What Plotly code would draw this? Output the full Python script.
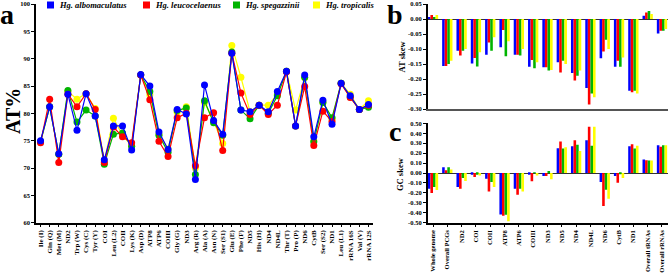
import plotly.graph_objects as go

# ---------------- data ----------------
series_names = ["Hg. albomaculatus", "Hg. leucocelaenus", "Hg. spegazzinii", "Hg. tropicalis"]
colors = ["#0000FF", "#FF0000", "#00B400", "#FFFF00"]

cats_a = ["Ile (I)", "Gln (Q)", "Met (M)", "ND2", "Trp (W)", "Cys (C)", "Tyr (Y)", "COI",
          "Leu (L2)", "COII", "Lys (K)", "Asp (D)", "ATP8", "ATP6", "COIII", "Gly (G)",
          "ND3", "Arg (R)", "Ala (A)", "Asn (N)", "Ser (S1)", "Glu (E)", "Phe (F)", "ND5",
          "His (H)", "ND4", "ND4L", "Thr (T)", "Pro (P)", "ND6", "CytB", "Ser (S2)", "ND1",
          "Leu (L1)", "rRNA 16S", "Val (V)", "rRNA 12S"]

at_albomaculatus = [75.0, 81.2, 72.6, 83.5, 76.9, 83.6, 79.5, 71.5, 77.7, 77.7, 73.3, 87.1,
                    85.0, 76.6, 73.4, 80.7, 79.9, 67.9, 85.2, 78.7, 76.2, 91.0, 80.6, 80.3,
                    81.5, 80.3, 84.0, 87.7, 77.7, 87.0, 75.7, 82.4, 78.0, 85.5, 83.2, 80.7, 81.6]
at_leucocelaenus = [74.6, 82.6, 71.0, 83.5, 81.2, 83.6, 80.7, 71.0, 77.5, 75.7, 74.6, 87.0,
                    82.5, 74.9, 72.1, 79.2, 80.0, 70.4, 79.2, 80.1, 73.2, 91.0, 83.7, 79.8,
                    81.5, 79.8, 81.5, 87.6, 77.7, 84.9, 74.1, 80.4, 78.5, 85.4, 82.9, 80.7, 81.5]
at_spegazzinii = [74.8, 81.2, 72.5, 84.2, 78.4, 80.6, 79.5, 70.7, 76.2, 76.4, 74.0, 87.0,
                  84.0, 76.0, 72.9, 80.5, 81.0, 68.8, 82.3, 78.3, 76.0, 91.2, 80.6, 79.0,
                  81.5, 80.0, 83.2, 87.7, 77.7, 86.6, 74.8, 82.0, 79.2, 85.5, 83.0, 80.7, 81.1]
at_tropicalis = [74.8, 81.2, 72.5, 84.0, 82.6, 83.6, 80.9, 71.3, 79.1, 76.0, 74.0, 87.0,
                 83.4, 76.2, 73.5, 80.2, 81.2, 70.0, 82.0, 78.5, 74.5, 92.4, 86.6, 80.3,
                 81.5, 81.5, 83.5, 87.7, 80.6, 86.5, 75.0, 82.0, 79.0, 85.5, 83.5, 80.7, 82.3]

cats_bc = ["Whole genome", "Overall PCGs", "ND2", "COI", "COII", "ATP8", "ATP6", "COIII",
           "ND3", "ND5", "ND4", "ND4L", "ND6", "CytB", "ND1", "Overall tRNAs", "Overall rRNAs"]

atskew_albomaculatus = [0.004, -0.157, -0.106, -0.148, -0.119, -0.094, -0.119, -0.159, -0.161,
                        -0.144, -0.180, -0.230, -0.131, -0.159, -0.239, 0.011, -0.048]
atskew_leucocelaenus = [0.013, -0.157, -0.122, -0.130, -0.078, -0.037, -0.119, -0.137, -0.161,
                        -0.178, -0.205, -0.285, -0.108, -0.139, -0.244, 0.022, -0.039]
atskew_spegazzinii = [0.005, -0.150, -0.106, -0.158, -0.106, -0.124, -0.122, -0.164, -0.172,
                      -0.139, -0.189, -0.248, -0.069, -0.159, -0.239, 0.027, -0.039]
atskew_tropicalis = [0.013, -0.139, -0.100, -0.111, -0.061, -0.074, -0.100, -0.144, -0.170,
                     -0.150, -0.172, -0.261, -0.100, -0.128, -0.248, 0.017, -0.033]

gcskew_albomaculatus = [-0.158, 0.057, -0.141, -0.017, -0.057, -0.418, -0.158, -0.017, -0.030,
                        0.249, 0.269, 0.330, -0.091, -0.030, 0.269, 0.135, 0.279]
gcskew_leucocelaenus = [-0.200, 0.027, -0.158, -0.040, -0.185, -0.431, -0.219, -0.084, -0.030,
                        0.316, 0.330, 0.466, -0.333, -0.098, 0.290, 0.128, 0.263]
gcskew_spegazzinii = [-0.140, 0.057, -0.050, -0.017, -0.091, -0.420, -0.158, 0.003, 0.020,
                      0.246, 0.283, 0.273, -0.168, -0.007, 0.246, 0.125, 0.279]
gcskew_tropicalis = [-0.170, 0.034, -0.080, -0.024, -0.141, -0.485, -0.185, -0.024, -0.064,
                     0.259, 0.222, 0.466, -0.260, -0.050, 0.273, 0.125, 0.279]

ticks_a = [60, 65, 70, 75, 80, 85, 90, 95, 100]
ticks_b = [-0.30, -0.25, -0.20, -0.15, -0.10, -0.05, 0.00, 0.05]
ticks_c = [-0.50, -0.40, -0.30, -0.20, -0.10, 0.00, 0.10, 0.20, 0.30, 0.40, 0.50]

at_pct = [at_albomaculatus, at_leucocelaenus, at_spegazzinii, at_tropicalis]
at_skew = [atskew_albomaculatus, atskew_leucocelaenus, atskew_spegazzinii, atskew_tropicalis]
gc_skew = [gcskew_albomaculatus, gcskew_leucocelaenus, gcskew_spegazzinii, gcskew_tropicalis]

# ---------------- figure ----------------
W, H = 668, 274
SERIF = "Liberation Serif"


def px(x):
    return x / W


def py(y):
    return 1 - y / H


def fmt2(v):
    s = f"{v:.2f}"
    return "0.00" if s == "-0.00" else s


fig = go.Figure()

for i in [3, 2, 1, 0]:
    fig.add_trace(go.Scatter(
        x=cats_a, y=at_pct[i], mode="lines+markers", name=series_names[i],
        line=dict(color=colors[i], width=1.2),
        marker=dict(size=7, color=colors[i]),
        showlegend=False, xaxis="x", yaxis="y"))

for i in range(4):
    fig.add_trace(go.Bar(
        x=cats_bc, y=at_skew[i], name=series_names[i],
        marker=dict(color=colors[i], line=dict(width=0)),
        showlegend=False, xaxis="x2", yaxis="y2"))

for i in range(4):
    fig.add_trace(go.Bar(
        x=cats_bc, y=gc_skew[i], name=series_names[i],
        marker=dict(color=colors[i], line=dict(width=0)),
        showlegend=False, xaxis="x3", yaxis="y3"))

tickfont_small = dict(family=SERIF, size=6.5, color="black", weight="bold")
tickfont_cat = dict(family=SERIF, size=7, color="black", weight="bold")
tickfont_cat_c = dict(family=SERIF, size=6.6, color="black", weight="bold")

common_ax = dict(automargin=False, showgrid=False)
bc_range = [-0.37, 16.42]

fig.update_layout(
    width=W, height=H,
    margin=dict(l=0, r=0, t=0, b=0, autoexpand=False),
    paper_bgcolor="white", plot_bgcolor="white",
    barmode="group", bargap=0.28, bargroupgap=0,
    showlegend=False,
    xaxis=dict(domain=[px(36), px(373)], anchor="y", type="category",
               range=[-0.5, len(cats_a) - 0.5],
               showline=True, linecolor="black", linewidth=1.5,
               ticks="outside", ticklen=3, tickwidth=1, tickcolor="black",
               tickangle=-90, tickfont=tickfont_cat, **common_ax),
    yaxis=dict(domain=[py(222.7), py(4)], anchor="x", range=[60, 100],
               tickvals=ticks_a, ticktext=[str(t) for t in ticks_a],
               showline=True, linecolor="black", linewidth=1.5,
               ticks="outside", ticklen=3, tickwidth=1, tickcolor="black",
               tickfont=tickfont_small, zeroline=False, **common_ax),
    xaxis2=dict(domain=[px(427.7), 1.0], anchor="y2", type="category",
                range=bc_range, showticklabels=False, ticks="",
                showline=True, linecolor="#555555", linewidth=1.5, **common_ax),
    yaxis2=dict(domain=[py(109), py(4)], anchor="x2", range=[-0.30, 0.05],
                tickvals=ticks_b, ticktext=[fmt2(t) for t in ticks_b],
                showline=True, linecolor="black", linewidth=1.5,
                ticks="outside", ticklen=3, tickwidth=1, tickcolor="black",
                tickfont=tickfont_small,
                zeroline=True, zerolinecolor="#333333", zerolinewidth=1.2, **common_ax),
    xaxis3=dict(domain=[px(427.7), 1.0], anchor="y3", type="category",
                range=bc_range,
                showline=True, linecolor="black", linewidth=1.5,
                ticks="outside", ticklen=3, tickwidth=1, tickcolor="black",
                tickangle=-90, tickfont=tickfont_cat_c, **common_ax),
    yaxis3=dict(domain=[py(222.7), py(123.3)], anchor="x3", range=[-0.5, 0.5],
                tickvals=ticks_c, ticktext=[fmt2(t) for t in ticks_c],
                showline=True, linecolor="black", linewidth=1.5,
                ticks="outside", ticklen=3, tickwidth=1, tickcolor="black",
                tickfont=tickfont_small,
                zeroline=True, zerolinecolor="#333333", zerolinewidth=1.2, **common_ax),
)

annotations = []
# panel letters
for letter, x, y in [("a", 7, 14), ("b", 395, 14), ("c", 395, 131)]:
    annotations.append(dict(text=letter, x=px(x), y=py(y), xref="paper", yref="paper",
                            xanchor="center", yanchor="middle", showarrow=False,
                            font=dict(family=SERIF, size=28, color="black", weight="bold")))
# axis titles
annotations.append(dict(text="AT%", x=px(13), y=py(111), xref="paper", yref="paper",
                        xanchor="center", yanchor="middle", showarrow=False, textangle=-90,
                        font=dict(family=SERIF, size=20, color="black", weight="bold")))
annotations.append(dict(text="AT skew", x=px(401.5), y=py(57), xref="paper", yref="paper",
                        xanchor="center", yanchor="middle", showarrow=False, textangle=-90,
                        font=dict(family=SERIF, size=8.5, color="black", weight="bold")))
annotations.append(dict(text="GC skew", x=px(400), y=py(174), xref="paper", yref="paper",
                        xanchor="center", yanchor="middle", showarrow=False, textangle=-90,
                        font=dict(family=SERIF, size=8.5, color="black", weight="bold")))

# legend (manual)
shapes = []
legend_x = [47, 143, 233, 313]
for i, lx in enumerate(legend_x):
    shapes.append(dict(type="rect", xref="paper", yref="paper",
                       x0=px(lx), x1=px(lx + 7), y0=py(8.5), y1=py(1.5),
                       fillcolor=colors[i], line=dict(width=0)))
    annotations.append(dict(text="<i>" + series_names[i] + "</i>", x=px(lx + 9.5), y=py(5),
                            xref="paper", yref="paper", xanchor="left", yanchor="middle",
                            showarrow=False,
                            font=dict(family=SERIF, size=8.5, color="black", weight="bold")))

fig.update_layout(annotations=annotations, shapes=shapes)

fig.write_html("out.html", config={"displayModeBar": False},
               post_script="document.body.style.margin='0';document.body.style.overflow='hidden';")
